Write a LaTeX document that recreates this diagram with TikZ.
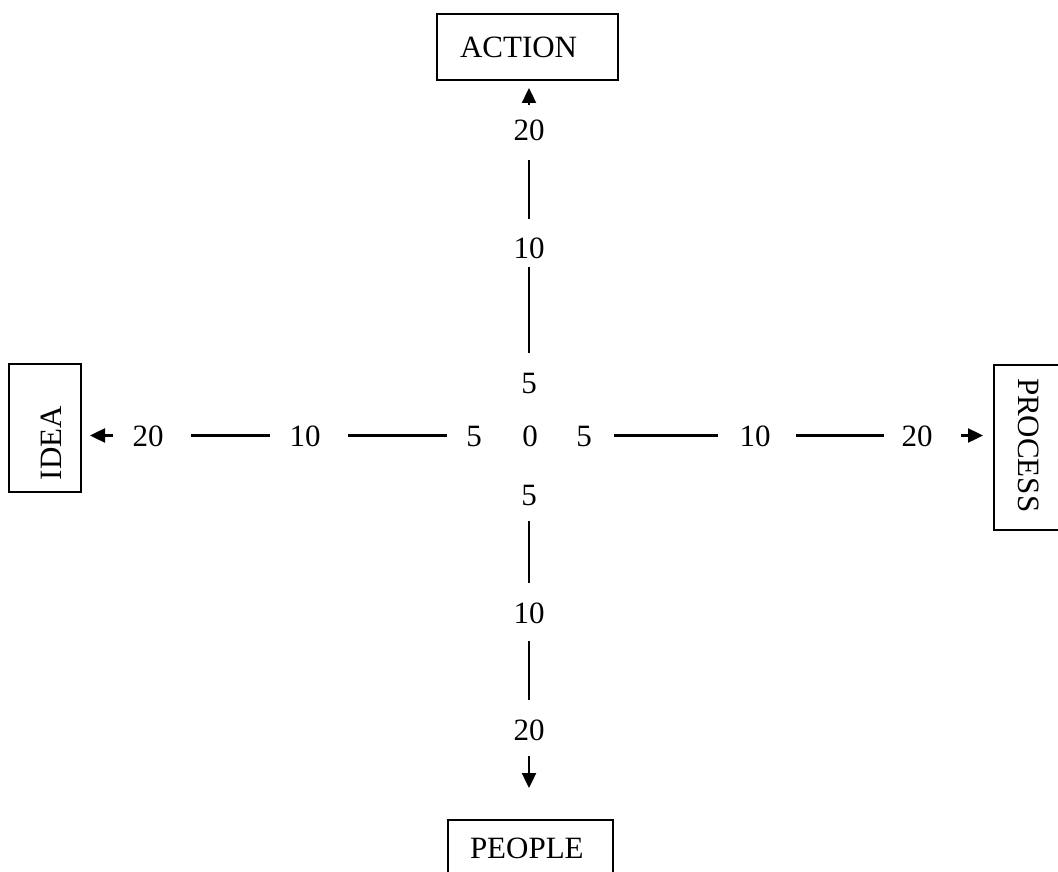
\documentclass[tikz,border=0pt]{standalone}
\usepackage{fontspec}
\setmainfont{Liberation Serif}
\usetikzlibrary{arrows.meta}
\begin{document}
\begin{tikzpicture}[x=1pt,y=1pt,
  every node/.style={font=\fontsize{31}{37}\selectfont, inner sep=0pt, outer sep=0pt},
  lbl/.style={text height=21pt, text depth=0pt},
  boxnode/.style={draw, line width=1.8pt, align=left, text depth=0pt},
  seg/.style={line width=2.6pt},
  arr/.style={line width=2.4pt, -{Triangle[length=15pt,width=14pt]}}]
\path[use as bounding box] (0,0) rectangle (1058,-872);
\clip (0,0) rectangle (1058,-872);

% boxes
\node[boxnode, minimum width=181pt, minimum height=66pt, inner xsep=23pt, text width=135pt, text height=20.5pt] (action) at (527.5,-47) {ACTION};
\node[boxnode, minimum width=165pt, minimum height=56pt, inner xsep=22pt, text width=121pt, text height=20.5pt] (people) at (530.5,-848) {PEOPLE};
\node[boxnode, rotate=90, minimum width=128pt, minimum height=72pt, inner xsep=12pt, text width=104pt, text height=32pt] (idea) at (45,-428) {IDEA};
\node[boxnode, rotate=-90, minimum width=165pt, minimum height=76pt, inner xsep=13pt, text width=139pt, text height=28pt] (process) at (1032,-447.5) {PROCESS};

% column labels
\node[lbl] (t20) at (529,-130.5) {20};
\node[lbl] (t10) at (529,-247.5) {10};
\node[lbl] (t5)  at (529,-382.5) {5};
\node[lbl] (c0)  at (530,-435.5) {0};
\node[lbl] (b5)  at (529,-494.5) {5};
\node[lbl] (b10) at (529,-612.5) {10};
\node[lbl] (b20) at (529,-729.5) {20};

% row labels
\node[lbl] (l20) at (148,-435.5) {20};
\node[lbl] (l10) at (305,-435.5) {10};
\node[lbl] (l5)  at (474,-435.5) {5};
\node[lbl] (r5)  at (584,-435.5) {5};
\node[lbl] (r10) at (755,-435.5) {10};
\node[lbl] (r20) at (917,-435.5) {20};

% segments
\draw[seg, shorten <=19pt, shorten >=18pt] (t20.south) -- (t10.north);
\draw[seg, shorten <=9pt, shorten >=19pt] (t10.south) -- (t5.north);
\draw[seg, shorten <=16pt, shorten >=19pt] (b5.south) -- (b10.north);
\draw[seg, shorten <=18pt, shorten >=19pt] (b10.south) -- (b20.north);
\draw[seg, shorten <=27.5pt, shorten >=19.5pt] (l20.east) -- (l10.west);
\draw[seg, shorten <=27.5pt, shorten >=19.25pt] (l10.east) -- (l5.west);
\draw[seg, shorten <=22.25pt, shorten >=21.5pt] (r5.east) -- (r10.west);
\draw[seg, shorten <=25.5pt, shorten >=17.5pt] (r10.east) -- (r20.west);

% arrows
\draw[arr, shorten <=15pt, shorten >=8pt] (t20.north) -- (t20.north |- action.south);
\draw[arr, shorten <=16pt, shorten >=32pt] (b20.south) -- (b20.south |- people.north);
\draw[arr, shorten <=19.5pt, shorten >=9pt] (l20.west) -- (l20.west -| idea.south);
\draw[arr, shorten <=28.5pt, shorten >=11pt] (r20.east) -- (r20.east -| process.south);
\end{tikzpicture}
\end{document}
